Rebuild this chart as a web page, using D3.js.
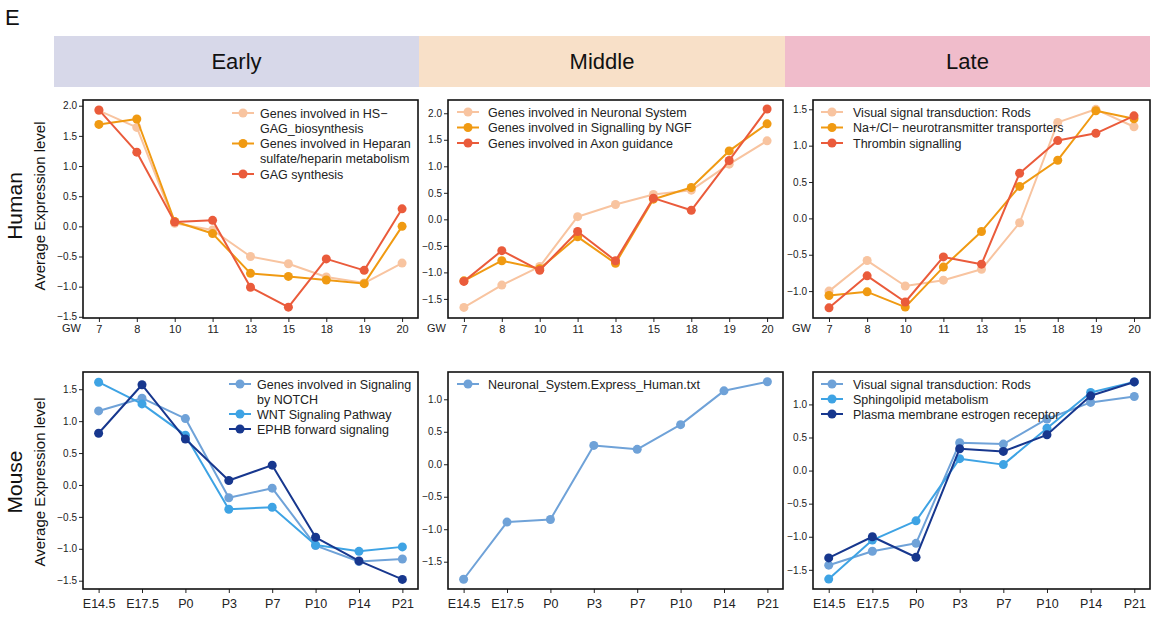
<!DOCTYPE html>
<html>
<head>
<meta charset="utf-8">
<script src="https://cdn.jsdelivr.net/npm/d3@7"></script>
<style>
  html, body { margin: 0; padding: 0; background: #fff; }
  svg { display: block; font-family: "Liberation Sans", Arial, sans-serif; }
</style>
</head>
<body>
<svg id="chart" width="1152" height="617"></svg>
<script>
// ---- data ----
const humanStages = ["7", "8", "10", "11", "13", "15", "18", "19", "20"];
const mouseStages = ["E14.5", "E17.5", "P0", "P3", "P7", "P10", "P14", "P21"];
const phases = ["Early", "Middle", "Late"];

// Human, early
const hsGag      = [1.92, 1.64, 0.05, -0.06, -0.50, -0.62, -0.84, -0.94, -0.61];
const heparan    = [1.69, 1.78, 0.08, -0.12, -0.78, -0.83, -0.89, -0.95, 0.00];
const gagSynth   = [1.93, 1.23, 0.07, 0.10, -1.01, -1.34, -0.54, -0.73, 0.29];
// Human, middle
const neuronal   = [-1.66, -1.24, -0.89, 0.05, 0.28, 0.47, 0.55, 1.04, 1.48];
const ngf        = [-1.16, -0.78, -0.93, -0.33, -0.83, 0.38, 0.60, 1.29, 1.80];
const axon       = [-1.17, -0.59, -0.96, -0.23, -0.78, 0.40, 0.17, 1.11, 2.08];
// Human, late
const rodsHuman  = [-1.00, -0.58, -0.93, -0.85, -0.70, -0.06, 1.32, 1.50, 1.26];
const naCl       = [-1.06, -1.01, -1.22, -0.67, -0.18, 0.44, 0.80, 1.48, 1.37];
const thrombin   = [-1.23, -0.79, -1.15, -0.53, -0.63, 0.62, 1.07, 1.17, 1.41];
// Mouse, early
const notch      = [1.16, 1.36, 1.04, -0.20, -0.05, -0.95, -1.20, -1.16];
const wnt        = [1.61, 1.27, 0.78, -0.38, -0.35, -0.94, -1.04, -0.97];
const ephb       = [0.81, 1.57, 0.72, 0.07, 0.31, -0.82, -1.19, -1.48];
// Mouse, middle
const neuronalMouse = [-1.77, -0.89, -0.85, 0.29, 0.23, 0.61, 1.13, 1.27];
// Mouse, late
const rodsMouse  = [-1.43, -1.22, -1.10, 0.42, 0.40, 0.78, 1.03, 1.12];
const sphingo    = [-1.64, -1.05, -0.76, 0.18, 0.09, 0.64, 1.18, 1.34];
const estrogen   = [-1.32, -1.00, -1.31, 0.33, 0.29, 0.54, 1.13, 1.34];

// y tick values per panel
const ticksHumanEarly  = [-1.5, -1.0, -0.5, 0.0, 0.5, 1.0, 1.5, 2.0];
const ticksHumanMiddle = [-1.5, -1.0, -0.5, 0.0, 0.5, 1.0, 1.5, 2.0];
const ticksHumanLate   = [-1.0, -0.5, 0.0, 0.5, 1.0, 1.5];
const ticksMouseEarly  = [-1.5, -1.0, -0.5, 0.0, 0.5, 1.0, 1.5];
const ticksMouseMiddle = [-1.5, -1.0, -0.5, 0.0, 0.5, 1.0];
const ticksMouseLate   = [-1.5, -1.0, -0.5, 0.0, 0.5, 1.0];

// ---- styling ----
const warm = ["#f8c4a0", "#f09a12", "#ea5b3b"];
const blue = { mid: "#6fa2d8", bright: "#3ea3e4", navy: "#17378e" };
const phaseFill = ["#d7d8e9", "#f8e0c8", "#f0bccb"];

const svg = d3.select("#chart");

// panel label
svg.append("text").attr("x", 5).attr("y", 25)
  .attr("font-size", 22).attr("fill", "#111").text("E");

// phase header bands
const bandX = [54, 419, 785, 1150];
phases.forEach((p, i) => {
  svg.append("rect").attr("x", bandX[i]).attr("y", 36)
    .attr("width", bandX[i + 1] - bandX[i]).attr("height", 51)
    .attr("fill", phaseFill[i]);
  svg.append("text").attr("x", (bandX[i] + bandX[i + 1]) / 2).attr("y", 69)
    .attr("text-anchor", "middle").attr("font-size", 22).attr("fill", "#111")
    .text(p);
});

// row labels
function rowLabel(name, cy) {
  svg.append("text").attr("transform", `translate(22,${cy}) rotate(-90)`)
    .attr("text-anchor", "middle").attr("font-size", 21).attr("fill", "#111").text(name);
  svg.append("text").attr("transform", `translate(45,${cy}) rotate(-90)`)
    .attr("text-anchor", "middle").attr("font-size", 15).attr("fill", "#111")
    .text("Average Expression level");
}
rowLabel("Human", 206);
rowLabel("Mouse", 482);

const colX = [[83, 418], [448, 783], [813, 1150]];
const rowY = [[100, 318], [372, 589]];

const panels = [
  { row: 0, col: 0, stages: humanStages, domain: [-1.52, 2.095], ticks: ticksHumanEarly,
    legend: { x: 243, y: 113, text: 260 },
    series: [
      { name: ["Genes involved in HS−", "GAG_biosynthesis"], values: hsGag, color: warm[0] },
      { name: ["Genes involved in Heparan", "sulfate/heparin metabolism"], values: heparan, color: warm[1] },
      { name: ["GAG synthesis"], values: gagSynth, color: warm[2] } ] },
  { row: 0, col: 1, stages: humanStages, domain: [-1.86, 2.25], ticks: ticksHumanMiddle,
    legend: { x: 468, y: 112, text: 488 },
    series: [
      { name: ["Genes involved in Neuronal System"], values: neuronal, color: warm[0] },
      { name: ["Genes involved in Signalling by NGF"], values: ngf, color: warm[1] },
      { name: ["Genes involved in Axon guidance"], values: axon, color: warm[2] } ] },
  { row: 0, col: 2, stages: humanStages, domain: [-1.37, 1.628], ticks: ticksHumanLate,
    legend: { x: 832, y: 112, text: 853 },
    series: [
      { name: ["Visual signal transduction: Rods"], values: rodsHuman, color: warm[0] },
      { name: ["Na+/Cl− neurotransmitter transporters"], values: naCl, color: warm[1] },
      { name: ["Thrombin signalling"], values: thrombin, color: warm[2] } ] },
  { row: 1, col: 0, stages: mouseStages, domain: [-1.63, 1.77], ticks: ticksMouseEarly,
    legend: { x: 240, y: 384, text: 257 },
    series: [
      { name: ["Genes involved in Signaling", "by NOTCH"], values: notch, color: blue.mid },
      { name: ["WNT Signaling Pathway"], values: wnt, color: blue.bright },
      { name: ["EPHB forward signaling"], values: ephb, color: blue.navy } ] },
  { row: 1, col: 1, stages: mouseStages, domain: [-1.92, 1.42], ticks: ticksMouseMiddle,
    legend: { x: 468, y: 384, text: 488 },
    series: [
      { name: ["Neuronal_System.Express_Human.txt"], values: neuronalMouse, color: blue.mid } ] },
  { row: 1, col: 2, stages: mouseStages, domain: [-1.79, 1.49], ticks: ticksMouseLate,
    legend: { x: 832, y: 384, text: 853 },
    series: [
      { name: ["Visual signal transduction: Rods"], values: rodsMouse, color: blue.mid },
      { name: ["Sphingolipid metabolism"], values: sphingo, color: blue.bright },
      { name: ["Plasma membrane estrogen receptor"], values: estrogen, color: blue.navy } ] }
];

const fmt = d3.format(".1f");

panels.forEach(p => {
  const [x0, x1] = colX[p.col];
  const [y0, y1] = rowY[p.row];
  const isHuman = p.row === 0;
  const x = d3.scalePoint().domain(p.stages).range([x0, x1])
    .padding(isHuman ? 0.42 : 0.36);
  const y = d3.scaleLinear().domain(p.domain).range([y1, y0]);

  const g = svg.append("g");

  // y axis
  const yAxis = g.append("g").attr("transform", `translate(${x0},0)`)
    .call(d3.axisLeft(y).tickValues(p.ticks).tickFormat(fmt).tickSize(4).tickPadding(2));
  yAxis.select(".domain").remove();
  yAxis.selectAll("text").attr("font-size", 10).attr("fill", "#222")
    .attr("font-family", "Liberation Sans, Arial, sans-serif");
  yAxis.selectAll("line").attr("stroke", "#222");

  // x axis
  const xAxis = g.append("g").attr("transform", `translate(0,${y1})`)
    .call(d3.axisBottom(x).tickSize(4).tickPadding(isHuman ? 3 : 6));
  xAxis.select(".domain").remove();
  xAxis.selectAll("text").attr("font-size", isHuman ? 11 : 12.5).attr("fill", "#222")
    .attr("font-family", "Liberation Sans, Arial, sans-serif");
  xAxis.selectAll("line").attr("stroke", "#222");

  if (isHuman) {
    g.append("text").attr("x", x0 - 2).attr("y", y1 + 14)
      .attr("text-anchor", "end").attr("font-size", 11).attr("fill", "#222").text("GW");
  }

  // series
  const line = d3.line().x((d, i) => x(p.stages[i])).y(d => y(d));
  p.series.forEach(s => {
    g.append("path").datum(s.values).attr("d", line)
      .attr("fill", "none").attr("stroke", s.color).attr("stroke-width", 2)
      .attr("stroke-linejoin", "round");
    g.selectAll(null).data(s.values).enter().append("circle")
      .attr("cx", (d, i) => x(p.stages[i])).attr("cy", d => y(d))
      .attr("r", 4.5).attr("fill", s.color);
  });

  // frame
  g.append("rect").attr("x", x0).attr("y", y0)
    .attr("width", x1 - x0).attr("height", y1 - y0)
    .attr("fill", "none").attr("stroke", "#111").attr("stroke-width", 1.6);

  // legend
  let ly = p.legend.y;
  p.series.forEach(s => {
    g.append("line").attr("x1", p.legend.x - 11).attr("x2", p.legend.x + 11)
      .attr("y1", ly).attr("y2", ly).attr("stroke", s.color).attr("stroke-width", 2);
    g.append("circle").attr("cx", p.legend.x).attr("cy", ly).attr("r", 4.5).attr("fill", s.color);
    s.name.forEach((t, k) => {
      g.append("text").attr("x", p.legend.text).attr("y", ly + k * 15 + 4.5)
        .attr("font-size", 12.5).attr("fill", "#222").text(t);
    });
    ly += s.name.length * 15 + (p.row === 0 ? 0.5 : 0) ;
  });
});
</script>
</body>
</html>
